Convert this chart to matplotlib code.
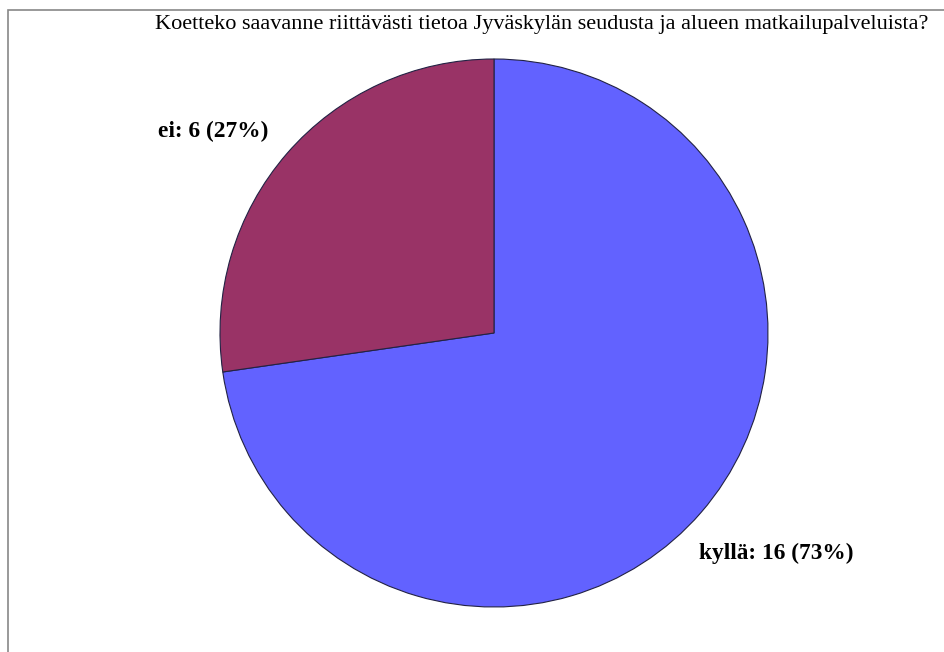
import matplotlib
matplotlib.use("Agg")
import matplotlib.pyplot as plt
from matplotlib.patches import Rectangle

# Vastaukset kysymykseen
labels = ["kyllä", "ei"]
counts = [16, 6]
colors = ["#6262FF", "#993366"]

title = "Koetteko saavanne riittävästi tietoa Jyväskylän seudusta ja alueen matkailupalveluista?"

W, H = 945, 652
fig = plt.figure(figsize=(W / 100, H / 100), dpi=100)
ax = fig.add_axes([0, 0, 1, 1])

# harmaa kehys, jatkuu kuvan reunojen yli
ax.add_patch(Rectangle((8, -20), W + 20, H - 10 + 20, fill=False,
                       edgecolor="#888888", linewidth=1.2))

wedges, _ = ax.pie(counts, colors=colors, startangle=90, counterclock=False,
                   center=(494, H - 333), radius=274, frame=True,
                   wedgeprops=dict(edgecolor="#222244", linewidth=0.8))
ax.set_xlim(0, W)
ax.set_ylim(0, H)
ax.set_aspect("auto")
ax.axis("off")

total = sum(counts)
texts = [f"{l}: {c} ({round(100 * c / total)}%)" for l, c in zip(labels, counts)]
font = dict(family="Liberation Serif", fontsize=16.8, fontweight="bold", color="black")
ax.text(699, H - 553, texts[0], ha="left", va="center", **font)
ax.text(158, H - 131, texts[1], ha="left", va="center", **font)

ax.text(542, H - 24, title, ha="center", va="center",
        family="Liberation Serif", fontsize=16, color="black")

fig.savefig("out.png", dpi=100)
